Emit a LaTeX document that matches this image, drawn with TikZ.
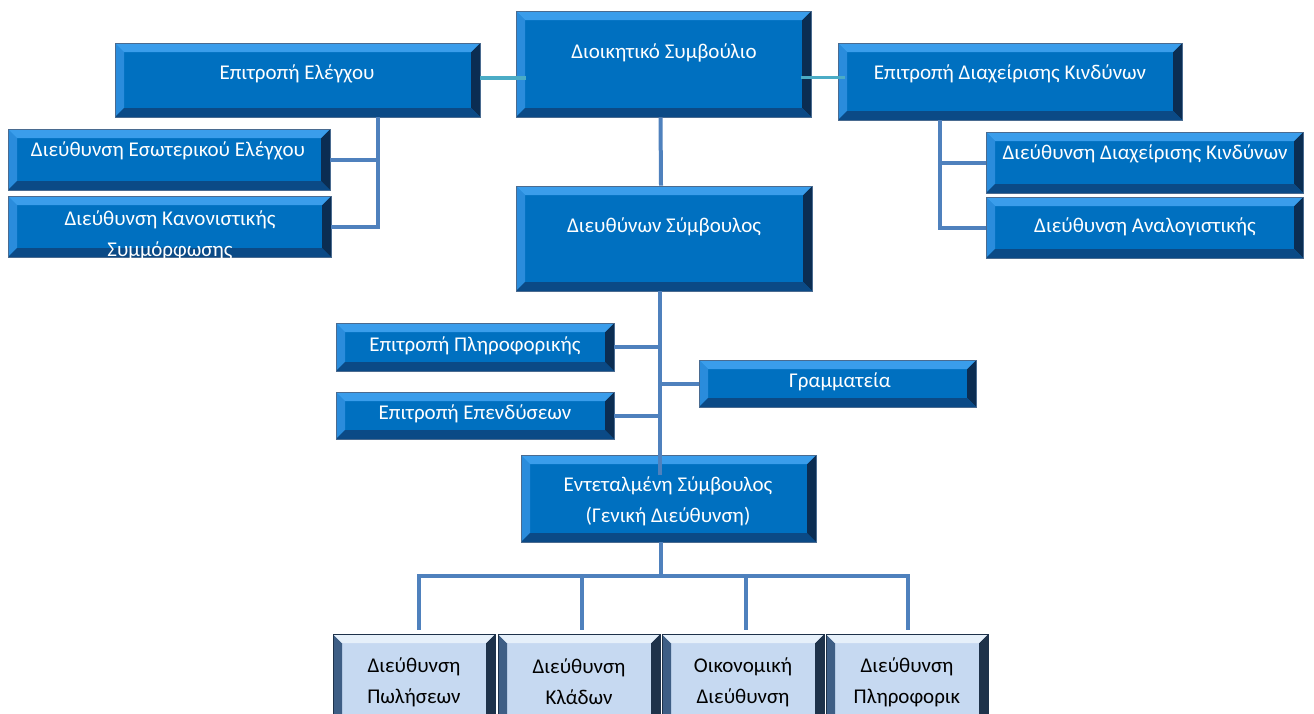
\documentclass[tikz,border=0pt]{standalone}
\usepackage{fontspec}
\setmainfont{Carlito}
\usepackage{xcolor}
\definecolor{boxblue}{HTML}{0070C0}
\definecolor{bevtop}{HTML}{3A9DEB}
\definecolor{bevleft}{HTML}{2A8CDC}
\definecolor{bevright}{HTML}{0B2D52}
\definecolor{bevbottom}{HTML}{0B4A86}
\definecolor{boxedge}{HTML}{4A6B90}
\definecolor{lightfill}{HTML}{C6D9F1}
\definecolor{ltop}{HTML}{E6F0FA}
\definecolor{lleft}{HTML}{3E5E85}
\definecolor{lright}{HTML}{1E324A}
\definecolor{lbottom}{HTML}{A0B9D8}
\definecolor{linkblue}{HTML}{4F81BD}
\definecolor{linkteal}{HTML}{4BACC6}

\tikzset{
  bevel/.style n args={4}{path picture={
    \fill[#2] (path picture bounding box.north west) -- ([shift={(9pt,-9pt)}]path picture bounding box.north west)
      -- ([shift={(9pt,9pt)}]path picture bounding box.south west) -- (path picture bounding box.south west) -- cycle;
    \fill[#3] (path picture bounding box.north east) -- ([shift={(-9pt,-9pt)}]path picture bounding box.north east)
      -- ([shift={(-9pt,9pt)}]path picture bounding box.south east) -- (path picture bounding box.south east) -- cycle;
    \fill[#1] (path picture bounding box.north west) -- (path picture bounding box.north east)
      -- ([shift={(-9pt,-9pt)}]path picture bounding box.north east) -- ([shift={(9pt,-9pt)}]path picture bounding box.north west) -- cycle;
    \fill[#4] (path picture bounding box.south west) -- (path picture bounding box.south east)
      -- ([shift={(-9pt,9pt)}]path picture bounding box.south east) -- ([shift={(9pt,9pt)}]path picture bounding box.south west) -- cycle;
  }}
}

\begin{document}
\begin{tikzpicture}[x=1pt,y=-1pt,
  orgbox/.style={draw=boxedge, line width=0.8pt, fill=boxblue, inner sep=0pt,
    bevel={bevtop}{bevleft}{bevright}{bevbottom}},
  deptbox/.style={draw=lright, line width=0.8pt, fill=lightfill, inner sep=0pt,
    bevel={ltop}{lleft}{lright}{lbottom}},
  wtxt/.style={text=white, font=\fontsize{21}{31}\selectfont, anchor=base, inner sep=0pt},
  btxt/.style={text=black, font=\fontsize{21}{31}\selectfont, align=center, inner sep=0pt},
  link/.style={draw=linkblue, line width=4pt},
  tlink/.style={draw=linkteal, line width=3.5pt}]
\useasboundingbox (0,0) rectangle (1314,713);
\clip (0,0) rectangle (1314,713);

% board and committees
\node [orgbox, minimum width=295pt, minimum height=106pt] (board) at (663.5,64) {};
\node [orgbox, minimum width=365pt, minimum height=74pt] (audit) at (297.5,80) {};
\node [orgbox, minimum width=344pt, minimum height=77pt] (risk) at (1010,81.5) {};
\node [orgbox, minimum width=322pt, minimum height=61pt] (intaudit) at (169,159.5) {};
\node [orgbox, minimum width=323pt, minimum height=61pt] (compl) at (169.5,226.5) {};
\node [orgbox, minimum width=317pt, minimum height=61pt] (riskdir) at (1144.5,162.5) {};
\node [orgbox, minimum width=317pt, minimum height=61pt] (actu) at (1144.5,227.5) {};
\node [orgbox, minimum width=296pt, minimum height=105pt] (ceo) at (664,238.5) {};
\node [orgbox, minimum width=278pt, minimum height=48pt] (itc) at (475,347) {};
\node [orgbox, minimum width=278pt, minimum height=47pt] (inv) at (475,415.5) {};
\node [orgbox, minimum width=277pt, minimum height=47pt] (secr) at (837.5,383.5) {};
\node [orgbox, minimum width=295pt, minimum height=87pt] (deputy) at (668.5,498.5) {};

% directorates
\node [deptbox, minimum width=162pt, minimum height=100pt] (sales) at (414,684) {};
\node [deptbox, minimum width=162pt, minimum height=100pt] (branch) at (579,684) {};
\node [deptbox, minimum width=162pt, minimum height=100pt] (fin) at (743,684) {};
\node [deptbox, minimum width=162pt, minimum height=100pt] (itd) at (907,684) {};

% texts
\node [wtxt] (board-t) at (664,58) {Διοικητικό Συμβούλιο};
\node [wtxt] (audit-t) at (297,79) {Επιτροπή Ελέγχου};
\node [wtxt] (risk-t) at (1010,79) {Επιτροπή Διαχείρισης Κινδύνων};
\node [wtxt] (intaudit-t) at (168,156) {Διεύθυνση Εσωτερικού Ελέγχου};
\begin{scope}
\clip (compl.south west) rectangle (compl.north east);
\node [btxt, text=white] (compl-t) at (170,235.5) {Διεύθυνση Κανονιστικής\\Συμμόρφωσης};
\end{scope}
\node [wtxt] (riskdir-t) at (1145,159) {Διεύθυνση Διαχείρισης Κινδύνων};
\node [wtxt] (actu-t) at (1145,232) {Διεύθυνση Αναλογιστικής};
\node [wtxt] (ceo-t) at (664,232) {Διευθύνων Σύμβουλος};
\node [wtxt] (itc-t) at (475,351) {Επιτροπή Πληροφορικής};
\node [wtxt] (inv-t) at (475,419) {Επιτροπή Επενδύσεων};
\node [wtxt] (secr-t) at (840,387) {Γραμματεία};
\node [btxt, text=white] (deputy-t) at (668,501.5) {Εντεταλμένη Σύμβουλος\\(Γενική Διεύθυνση)};
\node [btxt] (sales-t) at (414,682) {Διεύθυνση\\Πωλήσεων};
\node [btxt] (branch-t) at (579,682) {Διεύθυνση\\Κλάδων};
\node [btxt] (fin-t) at (743,682) {Οικονομική\\Διεύθυνση};
\node [btxt] (itd-t) at (907,682) {Διεύθυνση\\Πληροφορικ};

% connectors
\draw [tlink, shorten >=-10pt] ([yshift=2pt]audit.east) -- ([yshift=2pt]audit.east -| board.west);
\draw [tlink, shorten <=-10pt, shorten >=-7pt] ([yshift=4pt]risk.west -| board.east) -- ([yshift=4pt]risk.west);
\draw [link] (intaudit.east) -| ([xshift=80pt]audit.south);
\draw [link] (compl.east) -| ([xshift=80pt]audit.south);
\draw [link] (riskdir.west) -| ([xshift=-70pt]risk.south);
\draw [link] (actu.west) -| ([xshift=-70pt]risk.south);
\draw [link] ([xshift=-3pt]board.south) -- ([xshift=-3pt]ceo.north);
\coordinate (trunk) at ([xshift=-4pt]ceo.south);
\draw [link] (trunk) -- ([yshift=-20pt]trunk |- deputy.north);
\draw [link] (itc.east) -- (itc.east -| trunk);
\draw [link] (inv.east) -- (inv.east -| trunk);
\draw [link] (secr.west) -- (secr.west -| trunk);
\coordinate (bus) at (660,576);
\draw [link] ([xshift=-8pt]deputy.south) -- ([xshift=-8pt]deputy.south |- bus);
\draw [link] ([xshift=5pt,yshift=4pt]sales.north) |- (bus) -| ([xshift=1pt,yshift=4pt]itd.north);
\draw [link] ([xshift=3pt,yshift=4pt]branch.north) -- ([xshift=3pt]branch.north |- bus);
\draw [link] ([xshift=3pt,yshift=4pt]fin.north) -- ([xshift=3pt]fin.north |- bus);
\end{tikzpicture}
\end{document}
